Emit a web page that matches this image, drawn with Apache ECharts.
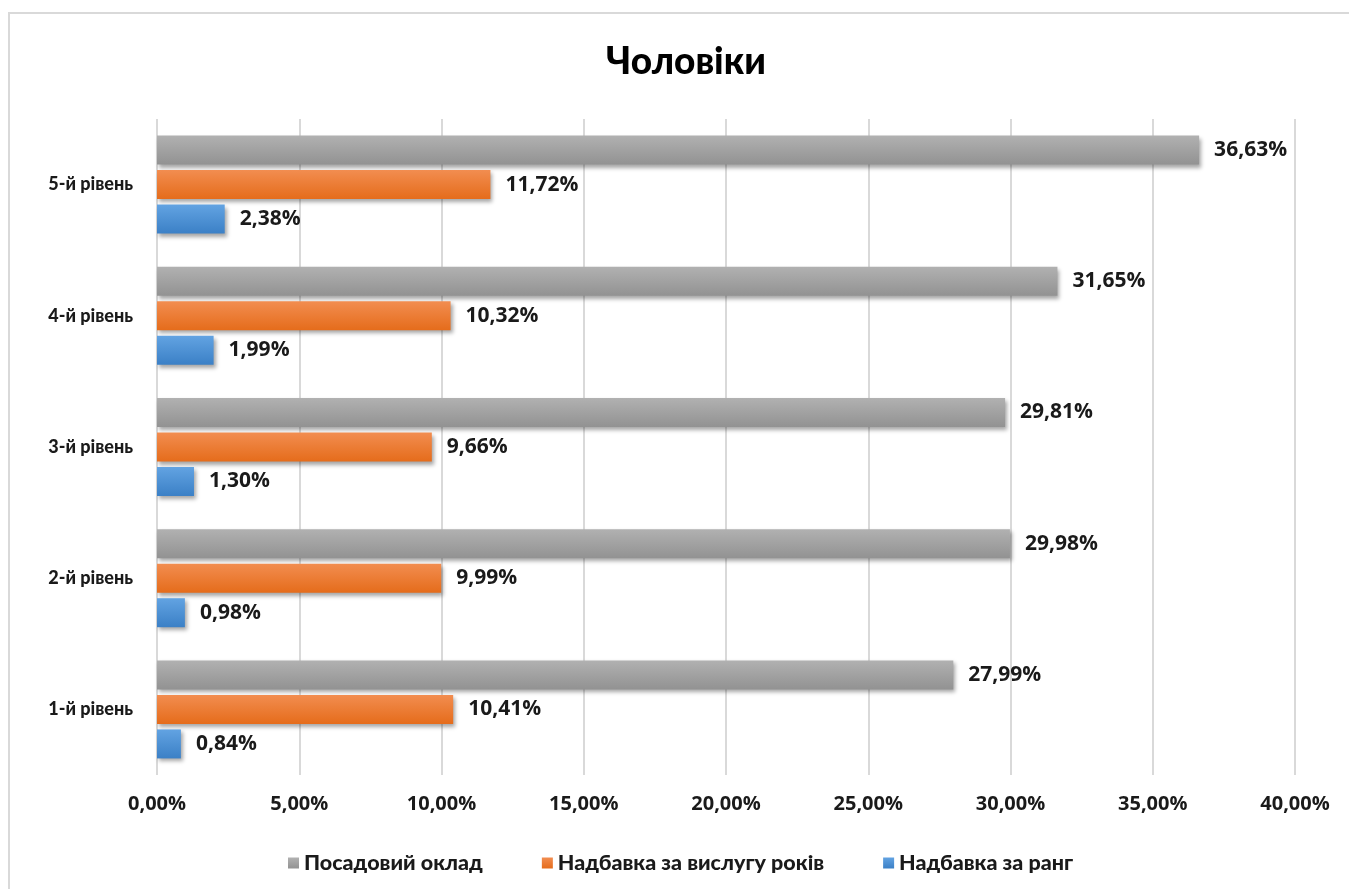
<!DOCTYPE html>
<html>
<head>
<meta charset="utf-8">
<script src="https://cdn.jsdelivr.net/npm/echarts@6/dist/echarts.min.js"></script>
<style>
html,body{margin:0;padding:0;background:#fff;overflow:hidden;}
#frame{position:absolute;left:8px;top:12px;width:1400px;height:900px;border-top:2px solid #d9d9d9;border-left:2px solid #d9d9d9;}
#chart{position:absolute;left:0;top:0;width:1349px;height:889px;}
</style>
</head>
<body>
<div id="frame"></div>
<div id="chart"></div>
<script>
const categories = ['1-й рівень', '2-й рівень', '3-й рівень', '4-й рівень', '5-й рівень'];
const seriesNames = ['Посадовий оклад', 'Надбавка за вислугу років', 'Надбавка за ранг'];
const salary = [27.99, 29.98, 29.81, 31.65, 36.63];
const seniority = [10.41, 9.99, 9.66, 10.32, 11.72];
const rank = [0.84, 0.98, 1.30, 1.99, 2.38];
const xTicks = [0, 5, 10, 15, 20, 25, 30, 35, 40];
const titleText = 'Чоловіки';

const TXT = 'Lato, "Noto Sans", sans-serif';
const NUM = '"Open Sans", "Noto Sans", sans-serif';
const fmt = v => Number(v).toFixed(2).replace('.', ',') + '%';

function grad(top, bottom) {
  return new echarts.graphic.LinearGradient(0, 0, 0, 1, [
    {offset: 0, color: top}, {offset: 1, color: bottom}
  ]);
}
function barSeries(name, data, top, bottom) {
  return {
    name: name,
    type: 'bar',
    data: data,
    barWidth: 29,
    barGap: '19%',
    itemStyle: {
      color: grad(top, bottom),
      shadowColor: 'rgba(0,0,0,0.35)',
      shadowBlur: 4,
      shadowOffsetX: 2,
      shadowOffsetY: 3
    },
    label: {
      show: true,
      position: 'right',
      distance: 15,
      formatter: p => fmt(p.value),
      fontFamily: NUM,
      fontWeight: 'bold',
      fontSize: 21,
      color: '#1a1a1a'
    }
  };
}

const chart = echarts.init(document.getElementById('chart'));
chart.setOption({
  animation: false,
  graphic: [{
    type: 'text',
    x: 686,
    y: 62,
    style: {
      text: titleText,
      fontFamily: TXT,
      fontWeight: 900,
      fontSize: 37,
      fill: '#000',
      textAlign: 'center',
      textVerticalAlign: 'middle'
    }
  }],
  legend: {
    data: seriesNames,
    top: 847,
    left: 283,
    itemWidth: 11,
    itemHeight: 11,
    itemGap: 59,
    icon: 'rect',
    textStyle: {fontFamily: TXT, fontWeight: 900, fontSize: 21.5, color: '#1a1a1a', padding: [0, 0, 0, 0]}
  },
  grid: {left: 157, right: 54, top: 119, bottom: 114, containLabel: false},
  xAxis: {
    type: 'value',
    min: xTicks[0],
    max: xTicks[xTicks.length - 1],
    interval: 5,
    axisLine: {show: false},
    axisTick: {show: false},
    splitLine: {lineStyle: {color: '#d9d9d9', width: 2}},
    axisLabel: {
      formatter: v => fmt(v),
      fontFamily: NUM, fontWeight: 'bold', fontSize: 20, color: '#1a1a1a', margin: 19
    }
  },
  yAxis: {
    type: 'category',
    data: categories,
    axisLine: {show: false},
    axisTick: {show: false},
    axisLabel: {fontFamily: TXT, fontWeight: 900, fontSize: 18, color: '#1a1a1a', margin: 24}
  },
  series: [
    barSeries(seriesNames[0], salary, '#b1b1b1', '#929292'),
    barSeries(seriesNames[1], seniority, '#f28d50', '#e56c1b'),
    barSeries(seriesNames[2], rank, '#62a3e2', '#3b80c6')
  ]
});
</script>
</body>
</html>
